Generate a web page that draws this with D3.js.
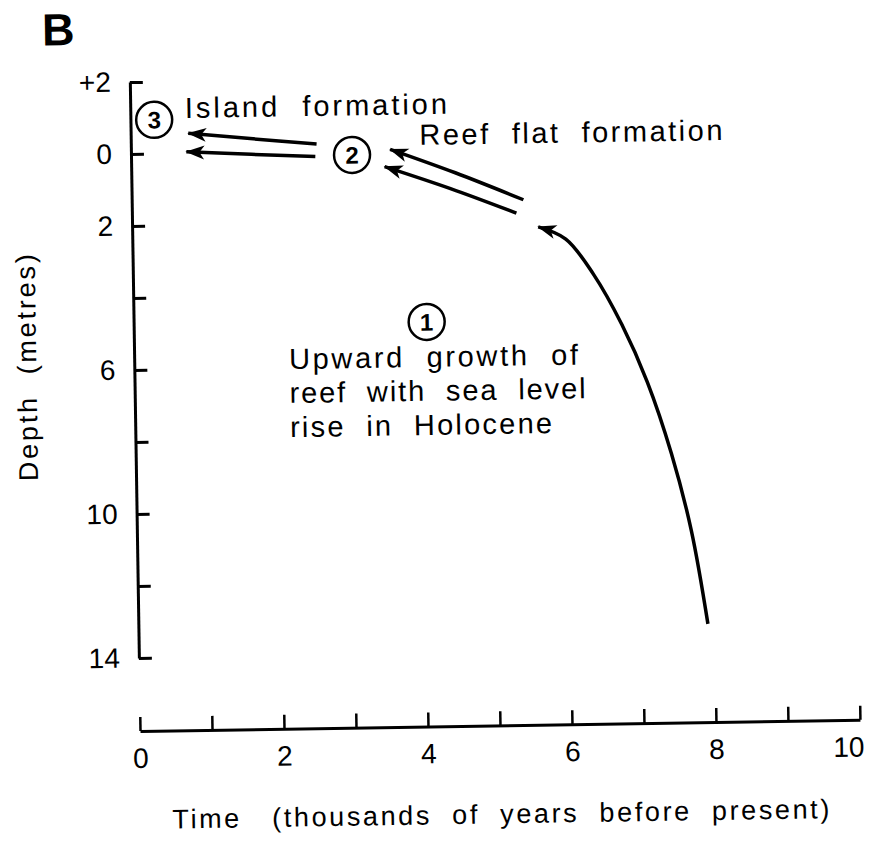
<!DOCTYPE html>
<html><head><meta charset="utf-8">
<script src="https://cdn.jsdelivr.net/npm/d3@7"></script>
<style>
body{margin:0;background:#fff}
svg text{font-family:"Liberation Sans",Arial,Helvetica,sans-serif;fill:#000}
</style></head><body>
<svg id="chart" width="869" height="852"></svg>
<script>
// ---- data (time in thousands of years BP, depth in metres) ----
const yTicks = [-2, 0, 2, 4, 6, 8, 10, 12, 14];
const yTickLabels = ["+2", "0", "2", "", "6", "", "10", "", "14"];
const xTicks = [0, 1, 2, 3, 4, 5, 6, 7, 8, 9, 10];
const xTickLabels = ["0", "", "2", "", "4", "", "6", "", "8", "", "10"];

const growthCurve = [[7.91, 13.3], [7.70, 10.7], [7.44, 8.55], [7.12, 6.55], [6.78, 4.95], [6.40, 3.55], [6.02, 2.55], [5.64, 2.20]];
const reefFlatUpper = [[5.44, 1.44], [4.50, 0.66], [3.60, -0.02]];
const reefFlatLower = [[5.34, 1.81], [4.43, 1.10], [3.52, 0.46]];
const islandUpper = [[2.58, -0.20], [1.70, -0.37], [0.80, -0.55]];
const islandLower = [[2.56, 0.15], [1.67, 0.06], [0.77, -0.04]];

const stageNumbers = ["1", "2", "3"];
const stageAt = [[4.07, 4.79], [3.07, 0.12], [0.33, -0.94]];
const noteTexts = ["Island  formation", "Reef  flat  formation", "Upward  growth  of", "reef  with  sea  level", "rise  in  Holocene"];
const noteAt = [[0.76, -0.98], [4.01, -0.13], [2.15, 6.04], [2.15, 6.98], [2.15, 7.93]];
const noteLen = [262, 303, 289, 296, 262];

// ---- layout ----
const svg = d3.select("#chart");
const g = svg.append("g").attr("transform", "rotate(-0.9,140,730)");

const x = d3.scaleLinear().domain([0, 10]).range([140, 860]);
const y = d3.scaleLinear().domain([-2, 14]).range([82, 658]);
const xAxisY = 731;
const font = '"Liberation Sans",Arial,Helvetica,sans-serif';

const defs = svg.append("defs");
defs.append("marker").attr("id", "head")
  .attr("markerUnits", "userSpaceOnUse")
  .attr("viewBox", "-19 -8 21 16")
  .attr("markerWidth", 21).attr("markerHeight", 16)
  .attr("refX", 0).attr("refY", 0).attr("orient", "auto")
  .append("path").attr("d", "M1,0 L-18,-7 L-13,0 L-18,7 Z").attr("fill", "#000");

// y axis
const yAxis = d3.axisLeft(y).tickValues(yTicks)
  .tickFormat((d, i) => yTickLabels[i]).tickSizeInner(-13).tickSizeOuter(0).tickPadding(19);
const ya = g.append("g").attr("transform", "translate(140,0)").call(yAxis);
ya.select(".domain").attr("stroke-width", 3);
ya.selectAll(".tick line").attr("stroke-width", 3);
ya.selectAll(".tick text").attr("font-size", 28).style("font-family", font);

// x axis
const xAxis = d3.axisBottom(x).tickValues(xTicks)
  .tickFormat((d, i) => xTickLabels[i]).tickSizeInner(-14).tickSizeOuter(0).tickPadding(17);
const xa = g.append("g").attr("transform", `translate(0,${xAxisY})`).call(xAxis);
xa.select(".domain").attr("stroke-width", 3);
xa.selectAll(".tick line").attr("stroke-width", 2.5);
xa.selectAll(".tick text").attr("font-size", 28).style("font-family", font)
  .attr("dx", d => d === 10 ? -12 : 0);
g.selectAll(".domain").attr("stroke", "#000");
g.selectAll(".tick line").attr("stroke", "#000");
g.selectAll(".tick text").attr("fill", "#000");

// arrows
const line = d3.line().x(d => x(d[0])).y(d => y(d[1])).curve(d3.curveCatmullRom.alpha(0.5));
[growthCurve, reefFlatUpper, reefFlatLower, islandUpper, islandLower].forEach(pts => {
  g.append("path").attr("d", line(pts)).attr("fill", "none")
    .attr("stroke", "#000").attr("stroke-width", 3.5)
    .attr("marker-end", "url(#head)");
});

// stage circles
stageNumbers.forEach((n, i) => {
  const cx = x(stageAt[i][0]), cy = y(stageAt[i][1]);
  g.append("circle").attr("cx", cx).attr("cy", cy).attr("r", 18)
    .attr("fill", "#fff").attr("stroke", "#000").attr("stroke-width", 2.5);
  g.append("text").attr("x", cx).attr("y", cy).attr("dy", "0.36em")
    .attr("text-anchor", "middle").attr("font-size", 24).attr("font-weight", "bold").text(n);
});

// annotations
noteTexts.forEach((t, i) => {
  g.append("text").attr("x", x(noteAt[i][0])).attr("y", y(noteAt[i][1]))
    .attr("font-size", 29).attr("textLength", noteLen[i]).attr("lengthAdjust", "spacing")
    .style("white-space", "pre").text(t);
});

// titles
g.append("text").attr("x", 53).attr("y", 44).attr("font-size", 45).attr("font-weight", "bold").text("B");
g.append("text").attr("transform", "translate(42,366) rotate(-90)").attr("text-anchor", "middle")
  .attr("font-size", 27).attr("textLength", 227).attr("lengthAdjust", "spacing")
  .style("white-space", "pre").text("Depth  (metres)");
g.append("text").attr("x", 171).attr("y", 829).attr("font-size", 27)
  .attr("textLength", 657).attr("lengthAdjust", "spacing")
  .style("white-space", "pre").text("Time   (thousands  of  years  before  present)");
</script>
</body></html>
